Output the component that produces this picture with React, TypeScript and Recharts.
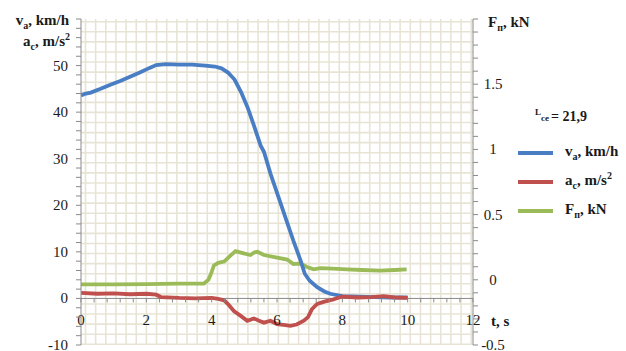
import React from 'react';
import { LineChart, Line, XAxis, YAxis, CartesianGrid, ReferenceLine, Legend } from 'recharts';

// ---------------- data ----------------
const vTime = [0, 0.15, 0.3, 0.6, 0.9, 1.2, 1.5, 1.8, 2.1, 2.3, 2.6, 3.0, 3.4, 3.8, 4.1, 4.3, 4.5, 4.7, 4.9, 5.1, 5.3, 5.5, 5.6, 5.8, 6.15, 6.5, 6.72, 6.85, 7.0, 7.23, 7.45, 7.63, 8.0, 8.5, 9.0, 9.5, 10.0];
const vValues = [43.6, 44.0, 44.2, 45.0, 45.9, 46.7, 47.6, 48.5, 49.5, 50.1, 50.3, 50.2, 50.2, 50.0, 49.8, 49.4, 48.5, 47.0, 44.3, 41.0, 37.0, 32.8, 31.5, 26.8, 19.6, 12.4, 8.2, 5.3, 3.8, 2.4, 1.5, 1.0, 0.5, 0.4, 0.3, 0.2, 0.2];

const aTime = [0, 0.5, 1.0, 1.5, 2.0, 2.3, 2.45, 3.0, 3.5, 4.0, 4.2, 4.38, 4.5, 4.68, 4.9, 5.09, 5.29, 5.45, 5.6, 5.8, 6.0, 6.2, 6.41, 6.6, 6.82, 6.95, 7.07, 7.23, 7.45, 7.73, 7.99, 8.45, 8.9, 9.26, 9.6, 10.0];
const aValues = [1.2, 1.0, 1.1, 0.9, 1.0, 0.8, 0.3, 0.1, 0.0, 0.1, -0.1, -0.4, -1.2, -2.7, -3.8, -4.8, -4.3, -4.8, -5.2, -4.8, -5.5, -5.7, -5.9, -5.6, -4.8, -4.0, -2.3, -1.2, -0.7, -0.2, 0.4, 0.2, 0.3, 0.5, 0.2, 0.1];

const fTime = [0, 1.0, 2.0, 3.0, 3.76, 3.9, 3.97, 4.07, 4.2, 4.38, 4.55, 4.73, 4.95, 5.19, 5.3, 5.4, 5.6, 6.0, 6.31, 6.5, 6.72, 6.9, 7.12, 7.33, 7.7, 8.14, 8.6, 9.16, 9.6, 9.97];
const fValues = [-0.035, -0.035, -0.033, -0.03, -0.03, 0.0, 0.04, 0.11, 0.13, 0.14, 0.18, 0.22, 0.205, 0.19, 0.21, 0.215, 0.19, 0.17, 0.155, 0.12, 0.125, 0.1, 0.08, 0.09, 0.085, 0.08, 0.075, 0.07, 0.075, 0.08];

// ---------------- ticks ----------------
const xTicks = [0, 0.4, 0.8, 1.2, 1.6, 2, 2.4, 2.8, 3.2, 3.6, 4, 4.4, 4.8, 5.2, 5.6, 6, 6.4, 6.8, 7.2, 7.6, 8, 8.4, 8.8, 9.2, 9.6, 10, 10.4, 10.8, 11.2, 11.6, 12];
const xLabels = [0, 2, 4, 6, 8, 10, 12];
const leftTicks = [-10, -8, -6, -4, -2, 0, 2, 4, 6, 8, 10, 12, 14, 16, 18, 20, 22, 24, 26, 28, 30, 32, 34, 36, 38, 40, 42, 44, 46, 48, 50, 52, 54, 56, 58, 60];
const leftLabels = [-10, 0, 10, 20, 30, 40, 50];
const rightTicks = [-0.5, -0.4, -0.3, -0.2, -0.1, 0, 0.1, 0.2, 0.3, 0.4, 0.5, 0.6, 0.7, 0.8, 0.9, 1, 1.1, 1.2, 1.3, 1.4, 1.5, 1.6, 1.7, 1.8, 1.9, 2];
const rightLabels = [-0.5, 0, 0.5, 1, 1.5];

const X_DOMAIN: [number, number] = [0, 12];
const LEFT_DOMAIN: [number, number] = [-10, 60];
const RIGHT_DOMAIN: [number, number] = [-0.5, 2];

const vData = vTime.map((t, i) => ({ t, v: vValues[i] }));
const aData = aTime.map((t, i) => ({ t, a: aValues[i] }));
const fData = fTime.map((t, i) => ({ t, f: fValues[i] }));

// ---------------- layout / style ----------------
const CHART_W = 626;
const CHART_H = 351;
const MARGIN_TOP = 19;
const LEFT_AXIS_W = 81;
const RIGHT_AXIS_W = 153;
const X_AXIS_H = 6;
const PLOT_H = CHART_H - MARGIN_TOP - X_AXIS_H;
const ZERO_OFF = (PLOT_H * (0 - LEFT_DOMAIN[0])) / (LEFT_DOMAIN[1] - LEFT_DOMAIN[0]);

const FONT = "'Liberation Serif', 'DejaVu Serif', 'Times New Roman', serif";
const AXIS_COLOR = '#8a8a8a';
const TEXT_COLOR = '#1a1a1a';
const GRID_COLOR = '#e8e4d5';
const BLUE = '#4a7ec4';
const RED = '#c0504d';
const GREEN = '#9bbb59';

const txt = (size: number, bold = false): React.CSSProperties => ({
  fontFamily: FONT,
  fontSize: size,
  fontWeight: bold ? 'bold' : 'normal',
});

const near = (list: number[], v: number) => list.some((l) => Math.abs(l - v) < 1e-6);

const LeftTick = (props: any) => {
  const { x, y, payload } = props;
  const v = payload.value;
  return (
    <g>
      <line x1={x - 5} x2={x} y1={y} y2={y} stroke={AXIS_COLOR} />
      {near(leftLabels, v) && (
        <text x={x - 13} y={y + 5} textAnchor="end" style={txt(15)} fill={TEXT_COLOR}>
          {String(v)}
        </text>
      )}
    </g>
  );
};

const RightTick = (props: any) => {
  const { x, y, payload } = props;
  const v = payload.value;
  return (
    <g>
      <line x1={x} x2={x + 5} y1={y} y2={y} stroke={AXIS_COLOR} />
      {near(rightLabels, v) && (
        <text x={x + 20} y={y + 5} textAnchor="middle" style={txt(15)} fill={TEXT_COLOR}>
          {String(v)}
        </text>
      )}
    </g>
  );
};

const XTick = (props: any) => {
  const { x, y, payload } = props;
  const v = payload.value;
  const zy = y - ZERO_OFF;
  return (
    <g>
      <line x1={x} x2={x} y1={zy} y2={zy + 4} stroke={AXIS_COLOR} />
      {near(xLabels, v) && (
        <text x={x} y={zy + 27} textAnchor="middle" style={txt(15)} fill={TEXT_COLOR}>
          {String(v)}
        </text>
      )}
    </g>
  );
};

const LeftTitle = (props: any) => {
  const vb = props.viewBox || { x: 0, y: MARGIN_TOP, width: LEFT_AXIS_W };
  const rx = vb.x + vb.width - 12;
  return (
    <g fill={TEXT_COLOR}>
      <text x={rx} y={vb.y + 6} textAnchor="end" style={txt(15, true)}>
        v<tspan fontSize={10} dy={4}>a</tspan>
        <tspan dy={-4}>, km/h</tspan>
      </text>
      <text x={rx + 1} y={vb.y + 27} textAnchor="end" style={txt(15, true)}>
        a<tspan fontSize={10} dy={4}>c</tspan>
        <tspan dy={-4}>, m/s</tspan>
        <tspan fontSize={10} dy={-6}>2</tspan>
      </text>
    </g>
  );
};

const RightTitle = (props: any) => {
  const vb = props.viewBox || { x: CHART_W - RIGHT_AXIS_W, y: MARGIN_TOP };
  return (
    <text x={vb.x + 15} y={vb.y + 8} style={txt(15, true)} fill={TEXT_COLOR}>
      F<tspan fontSize={10} dy={4}>п</tspan>
      <tspan dy={-4}>, kN</tspan>
    </text>
  );
};

const XTitle = (props: any) => {
  const vb = props.viewBox || { x: LEFT_AXIS_W, y: CHART_H - X_AXIS_H, width: CHART_W - LEFT_AXIS_W - RIGHT_AXIS_W };
  return (
    <text x={vb.x + vb.width + 18} y={vb.y - ZERO_OFF + 27.5} style={txt(15, true)} fill={TEXT_COLOR}>
      t, s
    </text>
  );
};

const seriesOrder = ['v', 'a', 'f'];
const seriesLabel: Record<string, React.ReactNode> = {
  v: (
    <>
      v<tspan fontSize={10} dy={4}>a</tspan>
      <tspan dy={-4}>, km/h</tspan>
    </>
  ),
  a: (
    <>
      a<tspan fontSize={10} dy={4}>c</tspan>
      <tspan dy={-4}>, m/s</tspan>
      <tspan fontSize={10} dy={-6}>2</tspan>
    </>
  ),
  f: (
    <>
      F<tspan fontSize={10} dy={4}>п</tspan>
      <tspan dy={-4}>, kN</tspan>
    </>
  ),
};

const LegendContent = (props: any) => {
  const payload: any[] = props.payload || [];
  const items = seriesOrder
    .map((k) => payload.find((p) => p.dataKey === k))
    .filter(Boolean);
  return (
    <svg width={121} height={130} style={{ display: 'block', overflow: 'visible' }}>
      <g fill={TEXT_COLOR}>
        <text x={30} y={15} style={txt(9, true)}>
          L
          <tspan dy={6}>ce</tspan>
          <tspan dx={2} dy={0} fontSize={14}>= 21,9</tspan>
        </text>
        {items.map((p: any, i: number) => {
          const cy = 53 + i * 29;
          return (
            <g key={p.dataKey}>
              <line x1={13} x2={48} y1={cy} y2={cy} stroke={p.color} strokeWidth={4} />
              <text x={60} y={cy + 3} style={txt(15, true)}>
                {seriesLabel[p.dataKey]}
              </text>
            </g>
          );
        })}
      </g>
    </svg>
  );
};

const verticalGrid = (props: any) => {
  const off = props.offset;
  const out: number[] = [];
  for (let x = off.left + 4.5; x < off.left + off.width; x += 10.15) out.push(x);
  return out;
};
const horizontalGrid = (props: any) => {
  const off = props.offset;
  const out: number[] = [];
  for (let y = off.top + 2.7; y < off.top + off.height; y += 10.08) out.push(y);
  return out;
};

export default function App() {
  return (
    <div style={{ position: 'absolute', left: 0, top: 0, width: CHART_W, height: CHART_H, background: '#fff' }}>
      <LineChart width={CHART_W} height={CHART_H} margin={{ top: MARGIN_TOP, right: 0, bottom: 0, left: 0 }}>
        <CartesianGrid
          stroke={GRID_COLOR}
          strokeWidth={1.6}
          verticalCoordinatesGenerator={verticalGrid}
          horizontalCoordinatesGenerator={horizontalGrid}
        />
        <XAxis
          type="number"
          dataKey="t"
          domain={X_DOMAIN}
          ticks={xTicks}
          interval={0}
          height={X_AXIS_H}
          axisLine={false}
          tickLine={false}
          tickSize={0}
          tickMargin={0}
          tick={<XTick />}
          allowDataOverflow
          label={(p: any) => <XTitle {...p} />}
        />
        <YAxis
          yAxisId="left"
          orientation="left"
          type="number"
          domain={LEFT_DOMAIN}
          ticks={leftTicks}
          interval={0}
          width={LEFT_AXIS_W}
          axisLine={{ stroke: AXIS_COLOR }}
          tickLine={false}
          tickSize={0}
          tickMargin={0}
          tick={<LeftTick />}
          allowDataOverflow
          label={(p: any) => <LeftTitle {...p} />}
        />
        <YAxis
          yAxisId="right"
          orientation="right"
          type="number"
          domain={RIGHT_DOMAIN}
          ticks={rightTicks}
          interval={0}
          width={RIGHT_AXIS_W}
          axisLine={{ stroke: AXIS_COLOR }}
          tickLine={false}
          tickSize={0}
          tickMargin={0}
          tick={<RightTick />}
          allowDataOverflow
          label={(p: any) => <RightTitle {...p} />}
        />
        <ReferenceLine yAxisId="left" y={0} stroke={AXIS_COLOR} strokeWidth={1} />
        <Line yAxisId="right" data={fData} dataKey="f" name="F" stroke={GREEN} strokeWidth={3.8} dot={false} type="linear" isAnimationActive={false} />
        <Line yAxisId="left" data={vData} dataKey="v" name="v" stroke={BLUE} strokeWidth={3.8} dot={false} type="linear" isAnimationActive={false} />
        <Line yAxisId="left" data={aData} dataKey="a" name="a" stroke={RED} strokeWidth={3.8} dot={false} type="linear" isAnimationActive={false} />
        <Legend
          layout="horizontal"
          verticalAlign="middle"
          align="center"
          content={(p: any) => <LegendContent {...p} />}
          wrapperStyle={{ left: 505, top: 100, width: 121, height: 130 }}
        />
      </LineChart>
    </div>
  );
}
